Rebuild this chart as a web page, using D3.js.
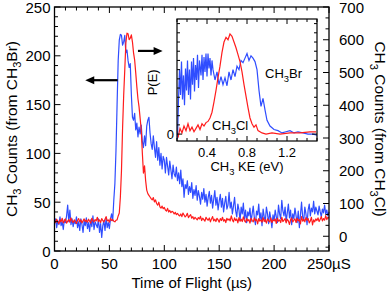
<!DOCTYPE html>
<html><head><meta charset="utf-8">
<script src="https://cdn.jsdelivr.net/npm/d3@7"></script>
<style>
body{margin:0;background:#fff}
svg{display:block}
text{font-family:"Liberation Sans",Arial,Helvetica,sans-serif;fill:#000}
</style>
</head><body>
<svg id="c" width="389" height="293"></svg>
<script>
// ---------- data ----------
const tofStart = 0, tofStep = 1; // microseconds
const ch3brCounts = [
28,33,24,31,27,35,26,30,22,32,
29,36,47,30,42,27,33,25,31,28,
35,24,30,21,33,27,19,31,26,34,
23,29,20,32,25,36,22,30,27,24,
33,19,28,14,26,31,21,34,24,29,
23,33,38,31,52,69,103,150,195,216,
222,221,211,214,221,203,206,195,188,192,
160,137,134,141,124,131,117,127,120,129,
112,106,118,108,128,134,137,121,110,104,
118,106,96,112,93,106,88,100,84,97,
93,80,96,87,78,92,83,74,88,79,
76,86,72,80,69,83,66,74,55,68,
64,72,58,66,60,70,54,63,57,67,
52,62,56,48,60,53,64,50,58,46,
55,61,49,57,44,53,62,47,55,42,
51,58,45,54,40,49,56,43,47,60,
44,50,38,46,55,41,35,48,42,31,
45,38,49,33,42,29,40,36,44,30,
38,46,34,27,41,37,48,32,39,26,
43,35,30,45,38,28,40,33,24,37,
31,42,35,29,47,38,33,52,41,36,
45,30,39,48,34,42,27,38,33,44,
36,29,41,24,37,50,35,31,45,38,
27,42,48,36,44,40,51,38,45,41,
37,46,40,35,43,39,47,38,42,36,
40];
const ch3clCounts = [
48,42,52,45,38,50,44,55,41,47,
53,40,46,51,43,56,47,42,50,45,
39,48,54,44,50,41,47,53,45,49,
43,52,46,40,55,48,44,51,47,58,
45,50,42,54,48,44,52,60,47,50,
43,55,48,51,46,44,49,50,62,71,
120,200,330,430,508,590,620,618,600,605,
615,593,560,538,498,456,420,395,360,325,
254,193,215,170,141,130,125,120,115,111,
118,105,111,100,95,104,90,86,92,84,
88,80,77,85,74,79,72,76,74,68,
73,66,70,65,62,68,60,71,65,59,
63,70,57,62,66,55,60,52,58,54,
50,57,53,61,48,55,51,46,58,52,
49,56,44,53,60,47,52,45,55,50,
43,54,48,58,46,51,42,55,49,53,
47,62,50,44,56,48,53,41,57,46,
52,45,59,48,43,54,47,51,40,55,
49,44,56,47,52,38,54,46,50,43,
57,45,51,40,53,48,44,56,42,50,
47,53,39,55,46,50,42,58,45,49,
54,41,52,47,36,50,56,44,49,53,
42,55,47,51,38,60,46,52,44,57,
49,54,41,47,58,35,50,44,53,48,
56,45,52,60,47,54,49,63,51,58,
55];
// inset: P(E) vs CH3 KE (eV)
const keBr = [0.105,0.115,0.125,0.135,0.145,0.155,0.165,0.175,0.185,0.195,0.205,0.215,0.225,0.235,0.245,0.255,0.265,0.275,0.285,0.295,0.305,0.315,0.325,0.34,0.35,0.36,0.37,0.38,0.39,0.40,0.41,0.42,0.43,0.44,0.45,0.46,0.48,0.50,0.52,0.54,0.56,0.58,0.60,0.62,0.64,0.66,0.68,0.70,0.72,0.74,0.76,0.78,0.80,0.82,0.84,0.86,0.88,0.90,0.92,0.94,0.96,0.98,1.00,1.03,1.07,1.11,1.15,1.19,1.23,1.27,1.31,1.36,1.41,1.46,1.50];
const pBr  = [-4,30,56,34,63,30,51,25,57,38,64,34,56,30,63,43,66,37,60,47,69,40,64,51,69,47,67,54,70,50,70,57,66,51,64,56,47,54,43,50,43,49,42,54,47,56,50,59,56,64,62,66,70,64,68,66,63,56,38,24,31,21,12,7,4,3,1,2,3,1,2,1,0,0,-1];
const keCl = [0.11,0.13,0.15,0.17,0.19,0.21,0.23,0.25,0.27,0.29,0.31,0.33,0.35,0.37,0.39,0.41,0.43,0.45,0.47,0.49,0.51,0.53,0.55,0.57,0.59,0.61,0.63,0.65,0.67,0.69,0.71,0.73,0.75,0.77,0.79,0.81,0.83,0.85,0.87,0.89,0.91,0.95,0.99,1.05,1.13,1.23,1.33,1.43,1.49];
const pCl  = [-3,5,1,7,3,9,3,6,2,5,8,4,9,7,10,11,14,19,28,38,49,59,71,80,84,82,87,85,80,75,69,63,54,43,33,23,14,9,6,8,3,1,0,1,0,1,1,2,2];

const xTickVals = [0,50,100,150,200,250];
const xTickLabels = ["0","50","100","150","200","250µS"];
const leftTickVals = [0,50,100,150,200,250];
const rightTickVals = [0,100,200,300,400,500,600,700];
const insetXTickVals = [0.4,0.8,1.2];
const arrowLeft = {t:[57.5,28], v:175};   // points to left axis
const arrowRight = {t:[76,98.5], v:205};  // points to right axis

// ---------- layout ----------
const svg = d3.select("#c");
const P = {l:54.5, r:329, t:7, b:251};
const BLUE = "#2f4dff", RED = "#ff1c1c";
const x = d3.scaleLinear().domain([0,250]).range([P.l,P.r]);
const yL = d3.scaleLinear().domain([0,250]).range([P.b,P.t]);
const yR = d3.scaleLinear().domain([-45,700]).range([P.b,P.t]);

function rich(sel, parts, fs){
  sel.attr("font-size", fs);
  let shifted = false;
  parts.forEach(([s,sub])=>{
    const t = sel.append("tspan").text(s);
    if(sub){ t.attr("font-size", fs*0.72).attr("dy", fs*0.3); shifted = true; }
    else if(shifted){ t.attr("dy", -fs*0.3); shifted = false; }
  });
  return sel;
}

const tof = ch3brCounts.map((_,i)=>tofStart + i*tofStep);

// main lines
const lineBr = d3.line().x((d,i)=>x(tof[i])).y(d=>yL(d));
const lineCl = d3.line().x((d,i)=>x(tof[i])).y(d=>yR(d));
svg.append("path").datum(ch3brCounts).attr("d",lineBr).attr("fill","none").attr("stroke",BLUE).attr("stroke-width",1.2).attr("stroke-linejoin","round");
svg.append("path").datum(ch3clCounts).attr("d",lineCl).attr("fill","none").attr("stroke",RED).attr("stroke-width",1.2).attr("stroke-linejoin","round");

// frame
svg.append("rect").attr("x",P.l).attr("y",P.t).attr("width",P.r-P.l).attr("height",P.b-P.t)
  .attr("fill","none").attr("stroke","#000").attr("stroke-width",1.3);

const ticks = svg.append("g").attr("stroke","#000").attr("stroke-width",1);
d3.range(0,251,10).forEach(v=>{
  const len = v%50===0 ? 6 : 3.5;
  ticks.append("line").attr("x1",x(v)).attr("x2",x(v)).attr("y1",P.b).attr("y2",P.b-len);
  ticks.append("line").attr("x1",x(v)).attr("x2",x(v)).attr("y1",P.t).attr("y2",P.t+len);
});
d3.range(0,251,10).forEach(v=>{
  const len = v%50===0 ? 6 : 3.5;
  ticks.append("line").attr("x1",P.l).attr("x2",P.l+len).attr("y1",yL(v)).attr("y2",yL(v));
});
d3.range(-33.33,700.1,100/3).forEach(v=>{
  const maj = Math.abs(v/100 - Math.round(v/100))<0.01;
  const len = maj ? 6 : 3.5;
  ticks.append("line").attr("x1",P.r).attr("x2",P.r-len).attr("y1",yR(v)).attr("y2",yR(v));
});

// tick labels
const FS = 15;
svg.append("g").selectAll("text").data(xTickVals).join("text")
  .attr("x",d=>x(d)).attr("y",269).attr("font-size",FS)
  .attr("text-anchor",(d,i)=> i===xTickVals.length-1 ? "start" : "middle")
  .attr("dx",(d,i)=> i===xTickVals.length-1 ? -22 : 0)
  .text((d,i)=>xTickLabels[i]);
svg.append("g").selectAll("text").data(leftTickVals).join("text")
  .attr("x",P.l-4).attr("y",d=>yL(d)+5.5).attr("font-size",FS).attr("text-anchor","end").text(d=>d);
svg.append("g").selectAll("text").data(rightTickVals).join("text")
  .attr("x",P.r+10).attr("y",d=>yR(d)+5.5).attr("font-size",FS).attr("text-anchor","start").text(d=>d);

// axis titles
svg.append("text").attr("x",(P.l+P.r)/2).attr("y",288).attr("text-anchor","middle").attr("font-size",15)
  .text("Time of Flight (µs)");
rich(svg.append("text").attr("text-anchor","middle").attr("transform",`translate(16.5,${(P.t+P.b)/2}) rotate(-90)`),
  [["CH",0],["3",1],[" Counts (from CH",0],["3",1],["Br)",0]], 15.5);
rich(svg.append("text").attr("text-anchor","middle").attr("transform",`translate(375,${(P.t+P.b)/2}) rotate(90)`),
  [["CH",0],["3",1],[" Counts (from CH",0],["3",1],["Cl)",0]], 15.5);

// arrows
function arrow(x1,x2,y){
  const dir = Math.sign(x2-x1);
  svg.append("line").attr("x1",x1).attr("x2",x2-dir*7).attr("y1",y).attr("y2",y).attr("stroke","#000").attr("stroke-width",2.2);
  svg.append("path").attr("d",`M${x2},${y} L${x2-dir*9},${y-4} L${x2-dir*9},${y+4} Z`).attr("fill","#000");
}
arrow(x(arrowLeft.t[0]), x(arrowLeft.t[1]), yL(arrowLeft.v));
arrow(x(arrowRight.t[0]), x(arrowRight.t[1]), yL(arrowRight.v));

// ---------- inset ----------
const I = {l:177, r:317, t:19, b:141};
const ix = d3.scaleLinear().domain([0.1,1.5]).range([I.l,I.r]);
const iy = d3.scaleLinear().domain([-6,100]).range([I.b,I.t]);
const ig = svg.append("g");
ig.append("rect").attr("x",I.l).attr("y",I.t).attr("width",I.r-I.l).attr("height",I.b-I.t).attr("fill","#fff");
svg.append("clipPath").attr("id","ic").append("rect").attr("x",I.l).attr("y",I.t).attr("width",I.r-I.l).attr("height",I.b-I.t);
const iline = (ke)=> d3.line().x((d,i)=>ix(ke[i])).y(d=>iy(d));
ig.append("path").datum(pBr).attr("d",iline(keBr)).attr("fill","none").attr("stroke",BLUE).attr("stroke-width",1.2).attr("clip-path","url(#ic)");
ig.append("path").datum(pCl).attr("d",iline(keCl)).attr("fill","none").attr("stroke",RED).attr("stroke-width",1.2).attr("clip-path","url(#ic)");
ig.append("rect").attr("x",I.l).attr("y",I.t).attr("width",I.r-I.l).attr("height",I.b-I.t).attr("fill","none").attr("stroke","#000").attr("stroke-width",1.2);
const it = ig.append("g").attr("stroke","#000").attr("stroke-width",1);
d3.range(0.1,1.501,0.1).forEach(v=>{
  const k = Math.round(v*10);
  const len = k%4===0 ? 5 : 3;
  it.append("line").attr("x1",ix(v)).attr("x2",ix(v)).attr("y1",I.b).attr("y2",I.b-len);
  it.append("line").attr("x1",ix(v)).attr("x2",ix(v)).attr("y1",I.t).attr("y2",I.t+len);
});
d3.range(0,100,8).forEach(v=>{
  const len = v===0 ? 5 : 3;
  it.append("line").attr("x1",I.l).attr("x2",I.l+len).attr("y1",iy(v)).attr("y2",iy(v));
  it.append("line").attr("x1",I.r).attr("x2",I.r-len).attr("y1",iy(v)).attr("y2",iy(v));
});
ig.selectAll("text.xt").data(insetXTickVals).join("text").attr("class","xt")
  .attr("x",d=>ix(d)).attr("y",157).attr("text-anchor","middle").attr("font-size",13).text(d=>d.toFixed(1));
ig.append("text").attr("x",I.l-3).attr("y",iy(0)+4.5).attr("text-anchor","end").attr("font-size",13).text("0");
rich(ig.append("text").attr("x",(I.l+I.r)/2).attr("y",171).attr("text-anchor","middle"),
  [["CH",0],["3",1],[" KE (eV)",0]], 13);
ig.append("text").attr("text-anchor","middle").attr("font-size",13)
  .attr("transform",`translate(${I.l-20},${iy(45)}) rotate(-90)`).text("P(E)");
rich(ig.append("text").attr("x",265).attr("y",78), [["CH",0],["3",1],["Br",0]], 13);
rich(ig.append("text").attr("x",212).attr("y",130), [["CH",0],["3",1],["Cl",0]], 13);
</script>
</body></html>
